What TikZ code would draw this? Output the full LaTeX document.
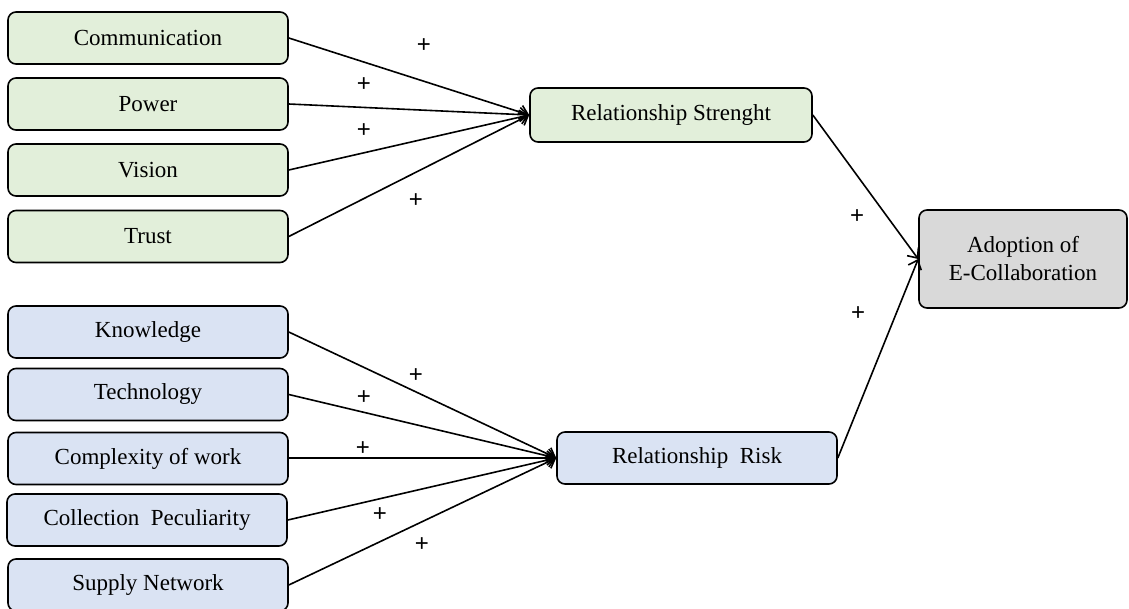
\documentclass[tikz,border=0pt]{standalone}
\usepackage{fontspec}
\setmainfont{Liberation Serif}
\newfontfamily\plusfont{Liberation Sans}
\usetikzlibrary{arrows.meta}
\definecolor{gfill}{HTML}{E2EFDA}
\definecolor{bfill}{HTML}{DAE3F3}
\definecolor{afill}{HTML}{D9D9D9}
\begin{document}
\begin{tikzpicture}[x=1pt,y=-1pt,
  box/.style={draw=black,line width=1.6pt,rounded corners=8pt,align=center,
    font=\fontsize{23}{28}\selectfont,inner sep=0pt},
  gbox/.style={box,fill=gfill,minimum width=280pt,minimum height=52pt},
  bbox/.style={box,fill=bfill,minimum width=280pt,minimum height=52pt},
  link/.style={line width=1.6pt,-{Straight Barb[length=8pt,width=14pt,line width=1.6pt]}},
  plus/.style={font=\plusfont\fontsize{24}{24}\selectfont,inner sep=0pt}]
\useasboundingbox (0,0) rectangle (1129,609);
% left green
\node[gbox] (comm) at (148,38) {Communication};
\node[gbox] (pow) at (148,104) {Power};
\node[gbox] (vis) at (148,170) {Vision};
\node[gbox] (tru) at (148,236.5) {Trust};
% left blue
\node[bbox] (kno) at (148,332) {Knowledge};
\node[bbox] (tec) at (148,394.5) {Technology};
\node[bbox] (cow) at (148,458.5) {Complexity of work};
\node[bbox] (col) at (147,520) {Collection\ \ Peculiarity};
\node[bbox] (sup) at (148,585) {Supply Network};
% middle
\node[gbox,minimum width=282pt,minimum height=54pt] (rs) at (671,115) {Relationship Strenght};
\node[bbox] (rr) at (697,458) {Relationship\ \ Risk};
% right
\node[box,fill=afill,minimum width=208pt,minimum height=98pt] (ad) at (1023,259) {Adoption of\\E-Collaboration};
% links
\draw[link] (comm.east) -- (rs.west);
\draw[link] (pow.east) -- (rs.west);
\draw[link] (vis.east) -- (rs.west);
\draw[link] (tru.east) -- (rs.west);
\draw[link] (kno.east) -- (rr.west);
\draw[link] (tec.east) -- (rr.west);
\draw[link] (cow.east |- rr.west) -- (rr.west);
\draw[link] (col.east) -- (rr.west);
\draw[link] (sup.east) -- (rr.west);
\draw[link] (rs.east) -- (ad.west);
\draw[link] (rr.east) -- (ad.west);
% plus signs
\node[plus] (p1) at (424,46) {+};
\node[plus] (p2) at (364,85) {+};
\node[plus] (p3) at (364,131) {+};
\node[plus] (p4) at (416,201) {+};
\node[plus] (p5) at (857,217) {+};
\node[plus] (p6) at (858,314) {+};
\node[plus] (p7) at (416,376) {+};
\node[plus] (p8) at (364,398) {+};
\node[plus] (p9) at (363,449) {+};
\node[plus] (p10) at (380,515) {+};
\node[plus] (p11) at (422,545) {+};
\end{tikzpicture}
\end{document}
